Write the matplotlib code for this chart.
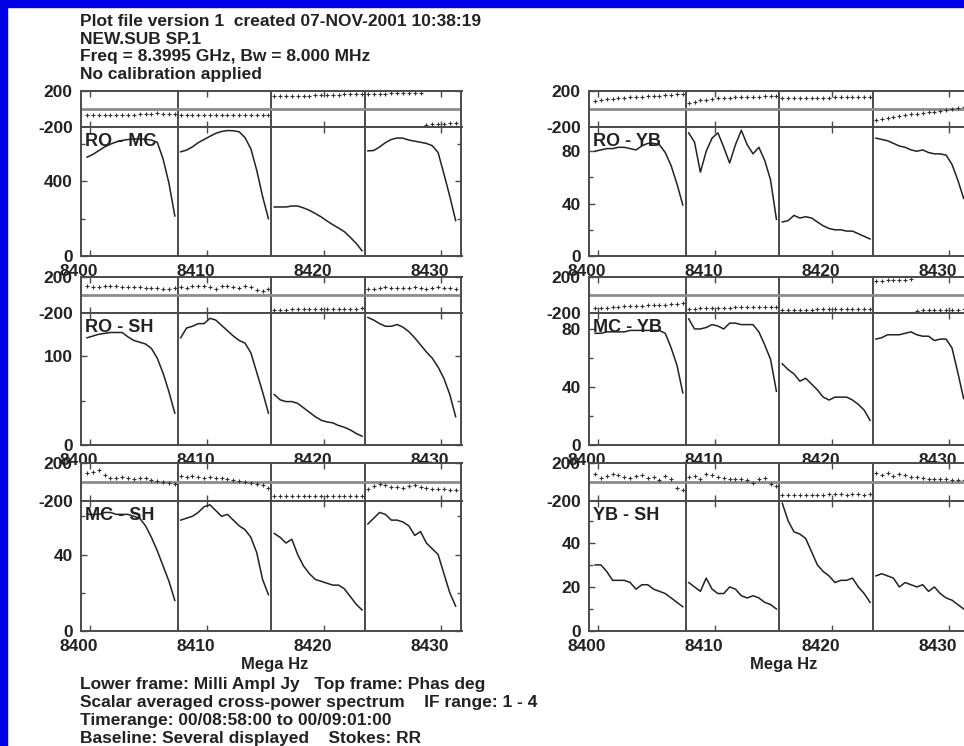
import numpy as np
import matplotlib.pyplot as plt
from matplotlib.ticker import MultipleLocator
from matplotlib.transforms import ScaledTranslation
from matplotlib.patches import Rectangle

plt.rcParams['font.family'] = ['Liberation Sans', 'DejaVu Sans']
plt.rcParams['font.weight'] = 'bold'
plt.rcParams['axes.unicode_minus'] = False

# 4 IFs of 8 MHz, 16 channels each
if_starts = [8399.5, 8407.5, 8415.5, 8423.5]
chan_width = 0.5
num_chans = 16
freq_min, freq_max = 8399.25, 8431.75
freq_ticks = [8400, 8410, 8420, 8430]

header_lines = ['Plot file version 1  created 07-NOV-2001 10:38:19',
                'NEW.SUB SP.1',
                'Freq = 8.3995 GHz, Bw = 8.000 MHz',
                'No calibration applied']
footer_lines = ['Lower frame: Milli Ampl Jy   Top frame: Phas deg',
                'Scalar averaged cross-power spectrum    IF range: 1 - 4',
                'Timerange: 00/08:58:00 to 00/09:01:00',
                'Baseline: Several displayed    Stokes: RR']

baselines = ['RO - MC', 'RO - YB', 'RO - SH', 'MC - YB', 'MC - SH', 'YB - SH']

# amplitudes (lower frames), one list per IF
amp_ro_mc = [
    [530, 545, 565, 585, 600, 612, 620, 625, 628, 628, 626, 622, 610, 520, 390, 215],
    [559, 568, 585, 608, 625, 642, 658, 668, 673, 672, 666, 635, 575, 460, 320, 200],
    [263, 263, 263, 268, 268, 258, 245, 228, 210, 188, 168, 150, 130, 100, 68, 28],
    [564, 566, 585, 608, 625, 633, 632, 622, 616, 610, 604, 592, 555, 440, 320, 190],
]
amp_ro_yb = [
    [80, 81, 82, 82, 83, 83, 82, 81, 84, 86, 86, 85, 79, 69, 55, 39],
    [94, 87, 64, 80, 90, 94, 83, 71, 85, 96, 85, 78, 83, 73, 58, 28],
    [26, 27, 31, 29, 30, 29, 26, 23, 21, 20, 20, 19, 19, 17, 15, 13],
    [90, 89, 88, 86, 84, 83, 81, 80, 81, 79, 78, 78, 77, 70, 58, 44],
]
amp_ro_sh = [
    [121, 123, 125, 126, 127, 127, 127, 122, 118, 116, 114, 109, 98, 81, 60, 36],
    [121, 132, 134, 137, 137, 143, 141, 135, 129, 123, 118, 115, 104, 82, 60, 36],
    [57, 51, 49, 49, 47, 42, 37, 32, 28, 26, 25, 22, 20, 17, 13, 10],
    [144, 141, 137, 134, 134, 136, 133, 128, 121, 113, 105, 98, 88, 75, 57, 32],
]
amp_mc_yb = [
    [77, 77, 78, 78, 78, 78, 79, 79, 79, 79, 79, 79, 77, 67, 55, 36],
    [87, 80, 80, 81, 83, 82, 80, 84, 84, 83, 83, 83, 78, 69, 59, 37],
    [56, 52, 49, 44, 46, 42, 38, 33, 31, 33, 33, 33, 31, 28, 24, 17],
    [73, 74, 76, 76, 76, 77, 78, 76, 75, 75, 72, 73, 73, 67, 50, 32],
]
amp_mc_sh = [
    [61, 61, 61, 62, 62, 61, 61, 61, 60, 59, 55, 49, 42, 34, 26, 16],
    [58, 59, 60, 62, 65, 66, 63, 60, 61, 58, 55, 53, 49, 41, 27, 19],
    [51, 49, 46, 48, 40, 34, 30, 27, 26, 25, 24, 24, 22, 18, 14, 11],
    [56, 59, 62, 61, 58, 58, 57, 55, 50, 52, 46, 43, 40, 30, 20, 13],
]
amp_yb_sh = [
    [30, 30, 27, 23, 23, 23, 22, 19, 21, 21, 19, 18, 17, 15, 13, 11],
    [22, 20, 18, 24, 19, 17, 17, 20, 19, 16, 15, 16, 15, 13, 12, 10],
    [58, 50, 45, 44, 42, 36, 30, 27, 25, 22, 23, 23, 24, 20, 17, 13],
    [25, 26, 25, 24, 20, 22, 21, 20, 21, 18, 20, 17, 15, 14, 12, 10],
]

# phases (top frames), degrees
phs_ro_mc = [
    [-70, -68, -68, -66, -65, -66, -64, -63, -62, -60, -58, -52, -48, -50, -52, -50],
    [-66, -68, -67, -66, -67, -68, -66, -67, -66, -65, -66, -67, -66, -65, -64, -66],
    [140, 142, 143, 145, 147, 148, 150, 152, 153, 155, 157, 160, 162, 163, 165, 167],
    [168, 170, 171, 172, 173, 174, 175, 176, 177, 178, -178, -172, -166, -162, -158, -155],
]
phs_ro_yb = [
    [92, 100, 108, 112, 118, 122, 128, 130, 135, 140, 145, 148, 152, 158, 162, 167],
    [70, 82, 95, 105, 112, 118, 122, 125, 128, 130, 133, 135, 138, 140, 142, 144],
    [119, 120, 122, 122, 124, 125, 125, 126, 127, 128, 129, 130, 130, 131, 132, 133],
    [-120, -110, -98, -88, -78, -70, -60, -52, -45, -38, -30, -20, -10, 0, 12, 25],
]
phs_ro_sh = [
    [95, 85, 90, 100, 105, 95, 92, 88, 90, 85, 80, 75, 78, 72, 70, 75],
    [90, 80, 95, 100, 98, 90, 70, 95, 105, 92, 80, 98, 85, 60, 40, 65],
    [-165, -163, -162, -160, -160, -158, -158, -157, -157, -156, -155, -156, -155, -154, -152, -150],
    [70, 72, 78, 85, 80, 76, 74, 80, 85, 78, 70, 82, 88, 78, 74, 72],
]
phs_mc_yb = [
    [-150, -145, -140, -130, -128, -125, -122, -120, -118, -115, -112, -110, -108, -105, -100, -90],
    [-155, -152, -150, -148, -145, -142, -140, -140, -138, -138, -135, -135, -132, -130, -130, -128],
    [-165, -164, -164, -163, -162, -162, -161, -160, -160, -160, -159, -158, -158, -157, -156, -156],
    [150, 156, 162, 166, 168, 170, 174, -175, -170, -168, -166, -166, -164, -163, -162, -160],
]
phs_mc_sh = [
    [90, 110, 125, 70, 40, 45, 55, 40, 35, 42, 38, 20, 10, 0, -10, -20],
    [60, 55, 62, 50, 45, 48, 40, 38, 30, 25, 15, 0, -10, -20, -30, -60],
    [-150, -152, -152, -151, -150, -150, -152, -150, -148, -148, -150, -150, -148, -148, -150, -150],
    [-70, -40, -20, -30, -50, -50, -60, -45, -30, -50, -60, -70, -75, -78, -80, -85],
]
phs_yb_sh = [
    [80, 40, 60, 85, 70, 50, 45, 60, 70, 40, 55, 25, 60, 30, -60, -80],
    [50, 60, 35, 80, 75, 55, 40, 35, 30, 35, 20, -10, 30, 40, -20, -40],
    [-135, -135, -138, -136, -134, -132, -136, -134, -130, -128, -130, -132, -128, -130, -132, -130],
    [90, 70, 95, 60, 80, 70, 55, 50, 40, 35, 35, 30, 28, 25, 22, 20],
]

amps = [amp_ro_mc, amp_ro_yb, amp_ro_sh, amp_mc_yb, amp_mc_sh, amp_yb_sh]
phases = [phs_ro_mc, phs_ro_yb, phs_ro_sh, phs_mc_yb, phs_mc_sh, phs_yb_sh]
amp_max = [692, 98.5, 149, 91, 68, 59]
amp_major = [400, 40, 100, 40, 40, 20]
amp_minor = [200, 20, 50, 20, 20, 10]


W, H = 964, 746
fig = plt.figure(figsize=(W / 100, H / 100), dpi=100)
fig.patch.set_facecolor('white')


def rect(x0, x1, y0, y1):
    return [x0 / W, 1 - y1 / H, (x1 - x0) / W, (y1 - y0) / H]


col_x = [(81.2, 461.5), (589.2, 969.5)]
row_y = [(91, 127, 256), (277, 313, 445), (463, 501, 631)]
frame_col = '#4a4a4a'
text_col = '#222222'
shift = ScaledTranslation(-0.11, 0, fig.dpi_scale_trans)

for n, name in enumerate(baselines):
    x0, x1 = col_x[n % 2]
    yt, ym, yb = row_y[n // 2]
    ax_p = fig.add_axes(rect(x0, x1, yt, ym))
    ax_a = fig.add_axes(rect(x0, x1, ym, yb))

    for ax in (ax_p, ax_a):
        ax.set_xlim(freq_min, freq_max)
        ax.set_xticks(freq_ticks)
        for s in ax.spines.values():
            s.set_color(frame_col)
            s.set_linewidth(1.4)
        for b in if_starts[1:]:
            ax.axvline(b, color=frame_col, lw=1.4)
        ax.tick_params(direction='in', top=True, right=True, length=4, width=1,
                       color=frame_col, labelsize=12.5, labelcolor=text_col, pad=6)
        ax.tick_params(which='minor', direction='in', right=True, length=3,
                       width=1, color=frame_col)

    ax_p.set_ylim(-200, 200)
    ax_p.set_yticks([-200, 200])
    ax_p.tick_params(labelbottom=False)
    ax_p.axhline(0, color='#8c8c8c', lw=2)

    ax_a.set_ylim(0, amp_max[n])
    ax_a.yaxis.set_major_locator(MultipleLocator(amp_major[n]))
    ax_a.yaxis.set_minor_locator(MultipleLocator(amp_minor[n]))
    for lab in ax_a.get_xticklabels():
        lab.set_transform(lab.get_transform() + shift)

    for k, f0 in enumerate(if_starts):
        f = f0 + chan_width / 2 + chan_width * np.arange(num_chans)
        ax_p.plot(f, phases[n][k], '+', color='#333333', ms=3, mew=0.8)
        ax_a.plot(f, amps[n][k], '-', color='#222222', lw=1.1)

    ax_a.text(0.01, 0.89, name, transform=ax_a.transAxes, fontsize=13,
              ha='left', va='center', color=text_col)

for i, line in enumerate(header_lines):
    fig.text(80 / W, 1 - (21 + 18 * i) / H, line, fontsize=12.5,
             ha='left', va='center', color=text_col)
for i, line in enumerate(footer_lines):
    fig.text(80 / W, 1 - (685 + 17.7 * i) / H, line, fontsize=12.5,
             ha='left', va='center', color=text_col)
for xc in (275, 784):
    fig.text(xc / W, 1 - 664 / H, 'Mega Hz', fontsize=12,
             ha='center', va='center', color=text_col)

# blue screen border on left and top
fig.patches.append(Rectangle((0, 0), 7 / W, 1, transform=fig.transFigure,
                             color='#0000e6', zorder=10))
fig.patches.append(Rectangle((0, 1 - 7 / H), 1, 7 / H, transform=fig.transFigure,
                             color='#0000e6', zorder=10))

fig.savefig('out.png', dpi=100)
